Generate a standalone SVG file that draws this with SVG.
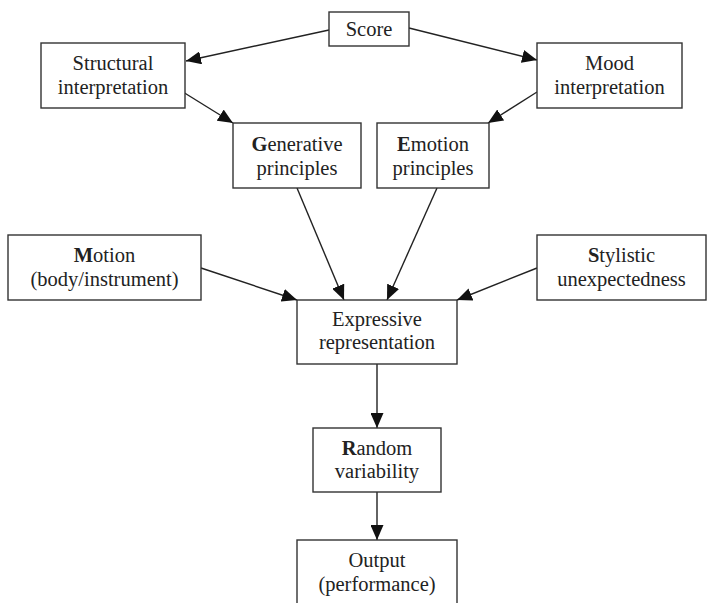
<svg xmlns="http://www.w3.org/2000/svg" width="710" height="603" viewBox="0 0 710 603">
<style>
rect.box{fill:#fff;stroke:#333;stroke-width:1.4}
text{font-family:'Liberation Serif',Tinos,'Times New Roman',Times,serif;font-size:20.5px;fill:#222;text-anchor:middle}
.b{font-weight:bold}
line.c{stroke:#222;stroke-width:1.4;marker-end:url(#ah)}
</style>
<defs>
<marker id="ah" markerUnits="userSpaceOnUse" markerWidth="16" markerHeight="13" refX="15" refY="6.5" orient="auto">
<polygon points="0,0 15,6.5 0,13" fill="#111"/>
</marker>
</defs>
<rect width="710" height="603" fill="#fff"/>
<g id="connectors">
<line class="c" x1="329" y1="30" x2="186" y2="61"/>
<line class="c" x1="409" y1="28" x2="537" y2="60"/>
<line class="c" x1="183" y1="92" x2="233" y2="123"/>
<line class="c" x1="537" y1="92" x2="488" y2="123"/>
<line class="c" x1="297" y1="188" x2="344" y2="300"/>
<line class="c" x1="437" y1="188" x2="387" y2="300"/>
<line class="c" x1="201" y1="268" x2="297" y2="300"/>
<line class="c" x1="537" y1="268" x2="457" y2="300"/>
<line class="c" x1="377" y1="364" x2="377" y2="428"/>
<line class="c" x1="377" y1="492" x2="377" y2="540"/>
</g>
<g id="score"><rect class="box" x="329" y="12" width="80" height="34"/><text x="369" y="36">Score</text></g>
<g id="structural"><rect class="box" x="41" y="43" width="144" height="65"/><text x="113" y="70">Structural</text><text x="113" y="94">interpretation</text></g>
<g id="mood"><rect class="box" x="537" y="43" width="145" height="65"/><text x="609.5" y="70">Mood</text><text x="609.5" y="94">interpretation</text></g>
<g id="generative"><rect class="box" x="233" y="123" width="128" height="65"/><text x="297" y="151"><tspan class="b">G</tspan>enerative</text><text x="297" y="175">principles</text></g>
<g id="emotion"><rect class="box" x="377" y="123" width="112" height="65"/><text x="433" y="151"><tspan class="b">E</tspan>motion</text><text x="433" y="175">principles</text></g>
<g id="motion"><rect class="box" x="8" y="235" width="193" height="65"/><text x="104.5" y="262"><tspan class="b">M</tspan>otion</text><text x="104.5" y="286">(body/instrument)</text></g>
<g id="stylistic"><rect class="box" x="537" y="235" width="169" height="65"/><text x="621.5" y="262"><tspan class="b">S</tspan>tylistic</text><text x="621.5" y="286">unexpectedness</text></g>
<g id="expressive"><rect class="box" x="297" y="300" width="160" height="64"/><text x="377" y="326">Expressive</text><text x="377" y="349">representation</text></g>
<g id="random"><rect class="box" x="313" y="428" width="128" height="64"/><text x="377" y="455"><tspan class="b">R</tspan>andom</text><text x="377" y="478">variability</text></g>
<g id="output"><rect class="box" x="297" y="540" width="160" height="80"/><text x="377" y="567">Output</text><text x="377" y="591">(performance)</text></g>
</svg>
